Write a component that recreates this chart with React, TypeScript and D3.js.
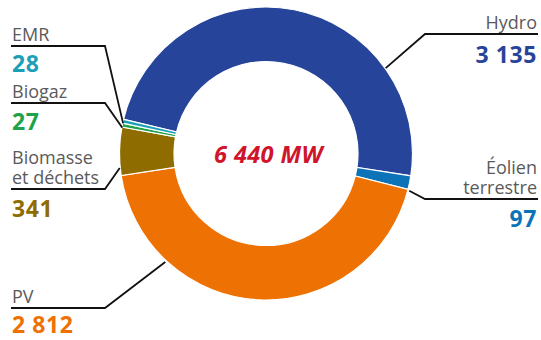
import React from "react";
import * as d3 from "d3";

const categories = ["Hydro", "Éolien terrestre", "PV", "Biomasse et déchets", "Biogaz", "EMR"];
const values = [3135, 97, 2812, 341, 27, 28];
const valueLabels = ["3 135", "97", "2 812", "341", "27", "28"];
const labelLines = [["Hydro"], ["Éolien", "terrestre"], ["PV"], ["Biomasse", "et déchets"], ["Biogaz"], ["EMR"]];
const colors = ["#27449b", "#0c73b8", "#ee7203", "#8f6c00", "#1ea24a", "#1ca0b8"];
const totalLabel = "6 440 MW";

const W = 541, H = 340;
const cx = 266, cy = 153.5, rOuter = 146.5, rInner = 92;
const startDeg = -76.5;

// label layout: side, elbow y, leader angle (deg) and radius, value offset
const layout = [
  { side: "right", y: 34, ang: 54.5, r: 147, dv: 29 },
  { side: "right", y: 199, ang: 104.6, r: 148, dv: 28 },
  { side: "left", y: 308, ang: 222.9, r: 148, dv: 25 },
  { side: "left", y: 189, ang: 264.3, r: 147, dv: 28 },
  { side: "left", y: 103, ang: 280.2, r: 146, dv: 27 },
  { side: "left", y: 46, ang: 281.9, r: 146, dv: 26 },
];

const FONT = "'Open Sans', 'Noto Sans', sans-serif";

export default function App() {
  const pie = d3.pie<number>().sort(null).value((d) => d)
    .startAngle((startDeg * Math.PI) / 180)
    .endAngle(((startDeg + 360) * Math.PI) / 180);
  const arcs = pie(values);
  const arc = d3.arc<d3.PieArcDatum<number>>().innerRadius(rInner).outerRadius(rOuter);

  return (
    <svg width={W} height={H} style={{ position: "absolute", left: 0, top: 0, background: "#fff" }}>
      <g transform={`translate(${cx},${cy})`}>
        {arcs.map((a, i) => (
          <path key={i} d={arc(a) || ""} fill={colors[i]} stroke="#fff" strokeWidth={1.2} />
        ))}
      </g>
      <text x={cx + 2.5} y={163} textAnchor="middle" fill="#d0142c" fontFamily={FONT}
        fontStyle="italic" fontWeight={700} fontSize={23.5} letterSpacing={0.4}>{totalLabel}</text>
      {categories.map((c, i) => {
        const L = layout[i];
        const t = (L.ang * Math.PI) / 180;
        const ex = cx + L.r * Math.sin(t);
        const ey = cy - L.r * Math.cos(t);
        const left = L.side === "left";
        const x0 = left ? 11 : 538;
        const elbowX = left ? 105 : 425;
        const lines = labelLines[i];
        const anchor = left ? "start" : "end";
        const tx = left ? 12 : 537;
        return (
          <g key={c}>
            <polyline points={`${x0},${L.y} ${elbowX},${L.y} ${ex},${ey}`} fill="none"
              stroke="#111" strokeWidth={1.8} />
            <text x={tx} y={L.y - 5 - (lines.length - 1) * 20} textAnchor={anchor}
              fill="#5a5a5a" fontFamily={FONT} fontSize={18}>
              {lines.map((s, j) => (
                <tspan key={j} x={tx} dy={j === 0 ? 0 : 20}>{s}</tspan>
              ))}
            </text>
            <text x={tx} y={L.y + L.dv} textAnchor={anchor} fill={colors[i]} fontFamily={FONT}
              fontWeight={700} fontSize={23} letterSpacing={0.6}>{valueLabels[i]}</text>
          </g>
        );
      })}
    </svg>
  );
}
